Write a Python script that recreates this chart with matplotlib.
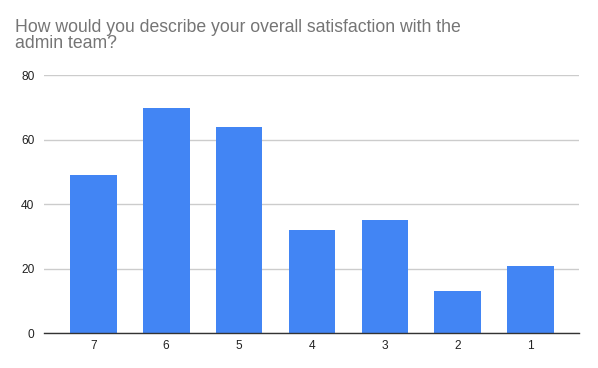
import matplotlib.pyplot as plt

categories = ['7', '6', '5', '4', '3', '2', '1']
counts = [49, 70, 64, 32, 35, 13, 21]
yticks = [0, 20, 40, 60, 80]

plt.rcParams['font.family'] = ['Liberation Sans', 'DejaVu Sans']

fig = plt.figure(figsize=(5.98, 3.68), dpi=100)
# axes box in pixels: left 44, right 579, bottom y=333, top y=75
W, H = 598, 368
ax = fig.add_axes([44/W, (H-333.3)/H, (579.3-44)/W, (333.3-75.3)/H])

x = range(len(categories))
ax.bar(x, counts, width=0.64, color='#4285F4', zorder=2)

ax.set_xlim(-0.676, 6.667)
ax.set_ylim(0, 80)
ax.set_yticks(yticks)
ax.set_xticks(list(x))
ax.set_xticklabels(categories)
ax.grid(axis='y', color='#cccccc', lw=1, zorder=0)
ax.tick_params(length=0, labelsize=8.6, labelcolor='#222222')
ax.tick_params(axis='y', pad=7)
ax.tick_params(axis='x', pad=5)
for s in ['top', 'right', 'left']:
    ax.spines[s].set_visible(False)
ax.spines['bottom'].set_color('#333333')
ax.spines['bottom'].set_linewidth(1)
ax.spines['bottom'].set_zorder(3)

fig.text(15/W, 1 - 19/H, 'How would you describe your overall satisfaction with the\nadmin team?',
         fontsize=12.7, color='#757575', va='top', ha='left', linespacing=0.92)

fig.savefig('out.png', dpi=100)
